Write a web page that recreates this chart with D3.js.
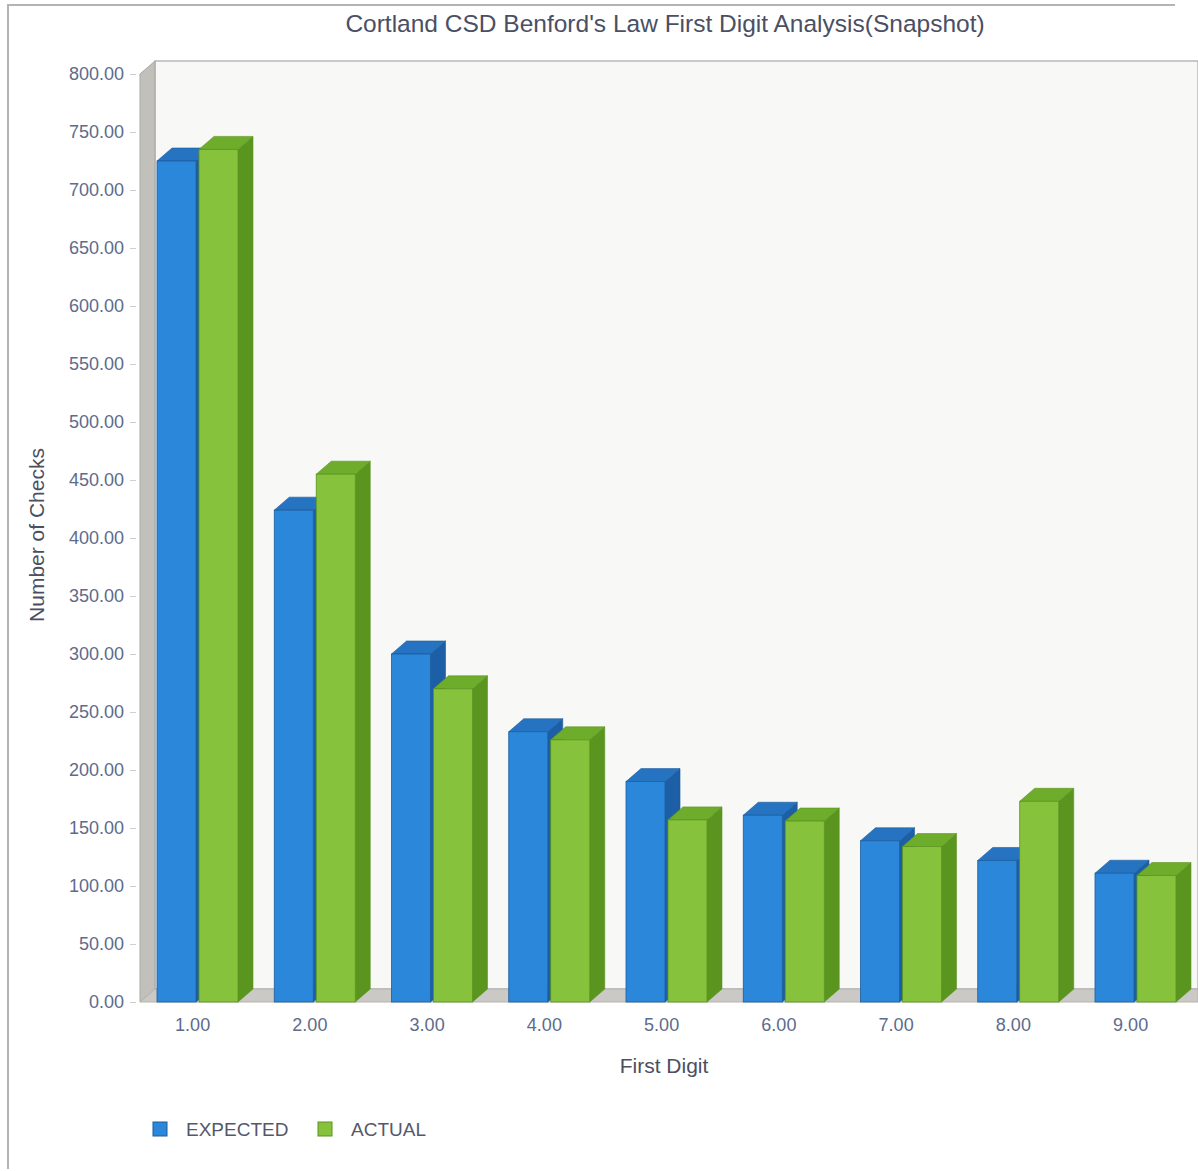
<!DOCTYPE html>
<html>
<head>
<meta charset="utf-8">
<script src="https://cdn.jsdelivr.net/npm/d3@7"></script>
<style>
  body { margin: 0; background: #fff; }
  text { font-family: "Liberation Sans", Arial, sans-serif; }
</style>
</head>
<body>
<script>
// data
var categories = ["1.00", "2.00", "3.00", "4.00", "5.00", "6.00", "7.00", "8.00", "9.00"];
var seriesNames = ["EXPECTED", "ACTUAL"];
var expected = [725, 424, 300, 233, 190, 161, 139, 122, 111];
var actual = [735, 455, 270, 226, 157, 156, 134, 173, 109];
var yTicks = d3.range(0, 801, 50);

var W = 1198, H = 1171;
// front plane of the plot
var LEFT = 140, RIGHT = 1198, TOP = 74, BOTTOM = 1002;
// depth offset of the 3D look
var DX = 15, DY = -13;

var colors = {
  EXPECTED: { front: "#2a87d9", top: "#2673c2", side: "#1c5fa6", stroke: "#1b5c9e" },
  ACTUAL:   { front: "#86c23b", top: "#6ead2b", side: "#5a961f", stroke: "#5a941f" }
};

var svg = d3.select("body").append("svg")
  .attr("width", W).attr("height", H);

// outer frame
svg.append("path")
  .attr("d", "M8," + (H - 2) + "V5H1175")
  .attr("fill", "none").attr("stroke", "#b4b4b4").attr("stroke-width", 2);

// scales
var x = d3.scaleBand().domain(categories).range([LEFT, LEFT + 9 * 117.25]);
var xSub = d3.scaleBand().domain(seriesNames).range([17, 98]).paddingInner(0.07);
var y = d3.scaleLinear().domain([0, 800]).range([BOTTOM, TOP]);

// back wall
svg.append("rect")
  .attr("x", LEFT + DX).attr("y", TOP + DY)
  .attr("width", RIGHT - LEFT - DX).attr("height", BOTTOM - TOP)
  .attr("fill", "#f8f8f6").attr("stroke", "#b8b8b8").attr("stroke-width", 1.5);

// left wall
svg.append("polygon")
  .attr("points", [[LEFT, TOP], [LEFT + DX, TOP + DY], [LEFT + DX, BOTTOM + DY], [LEFT, BOTTOM]].join(" "))
  .attr("fill", "#c2c0bb").attr("stroke", "#a9a7a2");

// floor
svg.append("polygon")
  .attr("points", [[LEFT, BOTTOM], [LEFT + DX, BOTTOM + DY], [RIGHT, BOTTOM + DY], [RIGHT, BOTTOM]].join(" "))
  .attr("fill", "#cbc9c5").attr("stroke", "#b5b3ae");

// bars
var rows = [];
categories.forEach(function (c, i) {
  rows.push({ cat: c, s: "EXPECTED", v: expected[i] });
  rows.push({ cat: c, s: "ACTUAL", v: actual[i] });
});

var bar = svg.append("g").selectAll("g").data(rows).join("g");

bar.each(function (d) {
  var g = d3.select(this);
  var x0 = x(d.cat) + xSub(d.s), w = xSub.bandwidth();
  var y0 = y(d.v), y1 = y(0);
  var col = colors[d.s];
  // side face
  g.append("polygon")
    .attr("points", [[x0 + w, y0], [x0 + w + DX, y0 + DY], [x0 + w + DX, y1 + DY], [x0 + w, y1]].join(" "))
    .attr("fill", col.side).attr("stroke", col.stroke).attr("stroke-width", 0.6);
  // top face
  g.append("polygon")
    .attr("points", [[x0, y0], [x0 + DX, y0 + DY], [x0 + w + DX, y0 + DY], [x0 + w, y0]].join(" "))
    .attr("fill", col.top).attr("stroke", col.stroke).attr("stroke-width", 0.6);
  // front face
  g.append("rect")
    .attr("x", x0).attr("y", y0).attr("width", w).attr("height", y1 - y0)
    .attr("fill", col.front).attr("stroke", col.stroke).attr("stroke-width", 0.8);
});

// y axis
var yAxis = d3.axisLeft(y).tickValues(yTicks).tickFormat(d3.format(".2f"))
  .tickSize(6).tickPadding(6);
var yg = svg.append("g").attr("transform", "translate(136,0)").call(yAxis);
yg.select(".domain").remove();
yg.selectAll("line").attr("stroke", "#cfcfcf");
yg.selectAll("text").attr("fill", "#5d6b8c").style("font-size", "18px");

// x axis
var xAxis = d3.axisBottom(x).tickSize(0).tickPadding(16);
var xg = svg.append("g").attr("transform", "translate(-6," + BOTTOM + ")").call(xAxis);
xg.select(".domain").remove();
xg.selectAll("text").attr("fill", "#5d6b8c").style("font-size", "18px");

// titles
svg.append("text")
  .attr("x", 665).attr("y", 32).attr("text-anchor", "middle")
  .attr("fill", "#4b4f63").style("font-size", "24.5px")
  .text("Cortland CSD Benford's Law First Digit Analysis(Snapshot)");

svg.append("text")
  .attr("x", 664).attr("y", 1073).attr("text-anchor", "middle")
  .attr("fill", "#4b4f5e").style("font-size", "21px")
  .text("First Digit");

svg.append("text")
  .attr("transform", "translate(44,535) rotate(-90)").attr("text-anchor", "middle")
  .attr("fill", "#4b4f5e").style("font-size", "21px")
  .text("Number of Checks");

// legend
var legendX = [153, 318];
var lg = svg.append("g").selectAll("g").data(seriesNames).join("g")
  .attr("transform", function (d, i) { return "translate(" + legendX[i] + ",1122)"; });
lg.append("rect").attr("width", 14).attr("height", 14)
  .attr("fill", function (d) { return colors[d].front; })
  .attr("stroke", function (d) { return colors[d].stroke; });
lg.append("text").attr("x", 33).attr("y", 14)
  .attr("fill", "#55586a").style("font-size", "19px")
  .text(function (d) { return d; });
</script>
</body>
</html>
